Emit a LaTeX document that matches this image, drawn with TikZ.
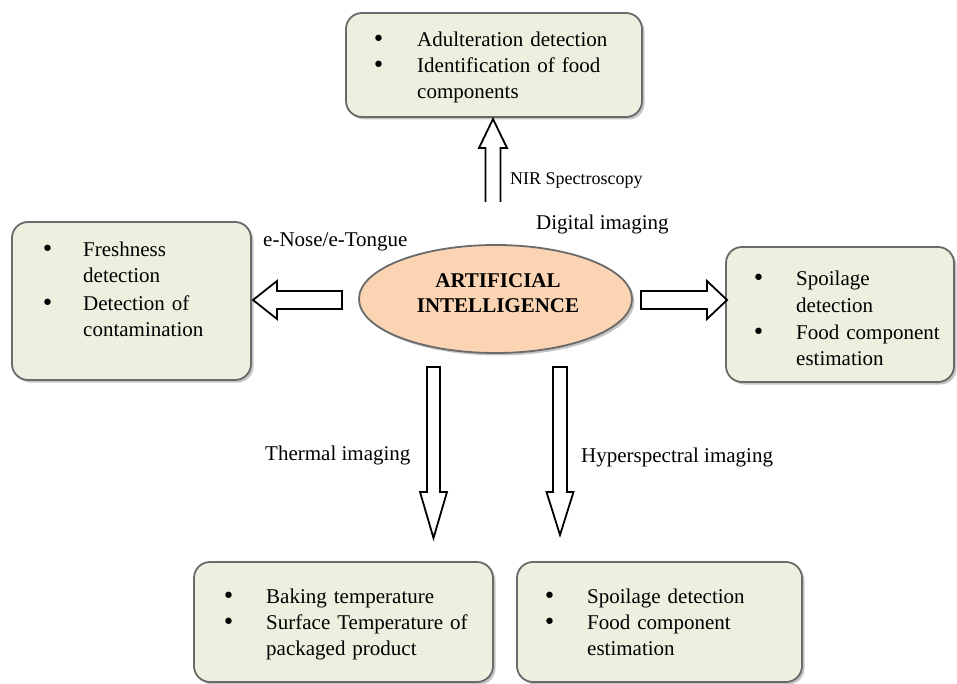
\documentclass[tikz,border=0pt]{standalone}
\usepackage{fontspec}
\setmainfont{Liberation Serif}
\newfontfamily\bulfont{DejaVu Sans}
\usetikzlibrary{shapes.geometric,shadows}
\definecolor{boxfill}{HTML}{EBF1DE}
\definecolor{boxline}{HTML}{6A6A6A}
\definecolor{aifill}{HTML}{FBD4B4}
\newcommand{\bul}[1]{\makebox[#1][l]{{\bulfont\fontsize{22}{26}\selectfont •}}}
\begin{document}
\begin{tikzpicture}[x=1pt,y=-1pt,
  box/.style={draw=boxline, line width=1.8pt, fill=boxfill, rounded corners=16pt, inner sep=0pt,
    drop shadow={shadow xshift=2.5pt, shadow yshift=-2.5pt, fill=black!45}},
  aibox/.style={ellipse, draw=boxline, line width=1.8pt, fill=aifill, inner sep=0pt,
    drop shadow={shadow xshift=2.5pt, shadow yshift=-2.5pt, fill=black!45}},
  itemtxt/.style={inner sep=0pt, anchor=base west, text width=300pt, align=left,
    font=\fontsize{21}{26}\selectfont},
  lbl/.style={inner sep=0pt, anchor=base west, font=\fontsize{21}{25}\selectfont},
  blockarrow/.style={draw=black, line width=1.8pt, fill=white, line join=miter}]
\useasboundingbox (0,0) rectangle (957,684);

% boxes
\node[box, minimum width=296pt, minimum height=104pt] (topbox) at (494,65) {};
\node[box, minimum width=239pt, minimum height=158pt] (leftbox) at (131.5,301) {};
\node[box, minimum width=228pt, minimum height=135pt] (rightbox) at (840,314.5) {};
\node[box, minimum width=299pt, minimum height=120pt] (blbox) at (343.5,622) {};
\node[box, minimum width=285pt, minimum height=120pt] (brbox) at (659.5,622) {};

% box texts
\node[itemtxt] (toptxt) at (372,47) {\bul{45pt}Adulteration detection\\
  \bul{45pt}Identification of food\\ \hspace*{45pt}components};
\node[itemtxt] (lefttxt) at (41,257) {\bul{42pt}Freshness\\ \hspace*{42pt}detection\\[2pt]
  \bul{42pt}Detection of\\ \hspace*{42pt}contamination};
\node[itemtxt] (righttxt) at (752,286) {\bul{44pt}Spoilage\\ \hspace*{44pt}detection\\[1pt]
  \bul{44pt}Food component\\ \hspace*{44pt}estimation};
\node[itemtxt] (bltxt) at (222,603) {\bul{44pt}Baking temperature\\
  \bul{44pt}Surface Temperature of\\ \hspace*{44pt}packaged product};
\node[itemtxt] (brtxt) at (543,603) {\bul{44pt}Spoilage detection\\
  \bul{44pt}Food component\\ \hspace*{44pt}estimation};

% central ellipse
\node[aibox, minimum width=273pt, minimum height=108pt] (ai) at (495.5,299) {};
\node[inner sep=0pt, align=center, font=\fontsize{21}{25}\selectfont\bfseries] (aitxt) at (498,293) {ARTIFICIAL\\INTELLIGENCE};

% block arrows
\draw[blockarrow] (485.5,202) -- (485.5,148) -- (479,148) -- (493,119) -- (507,148) -- (500.5,148) -- (500.5,202);
\draw[blockarrow] (342,291) -- (277,291) -- (277,281) -- (253,300) -- (277,319) -- (277,309) -- (342,309) -- cycle;
\draw[blockarrow] (641,291) -- (707,291) -- (707,281) -- (727,300) -- (707,319) -- (707,309) -- (641,309) -- cycle;
\draw[blockarrow] (427,367) -- (440,367) -- (440,492) -- (447,492) -- (433.5,538) -- (420,492) -- (427,492) -- cycle;
\draw[blockarrow] (553,367) -- (567,367) -- (567,492) -- (573.5,492) -- (560,535) -- (546.5,492) -- (553,492) -- cycle;

% labels
\node[lbl, font=\fontsize{18}{22}\selectfont] (nir) at (510,185) {NIR Spectroscopy};
\node[lbl] (dig) at (536,230) {Digital imaging};
\node[lbl] (enose) at (263,247) {e-Nose/e-Tongue};
\node[lbl] (therm) at (265,460) {Thermal imaging};
\node[lbl] (hyper) at (581,462) {Hyperspectral imaging};
\end{tikzpicture}
\end{document}
